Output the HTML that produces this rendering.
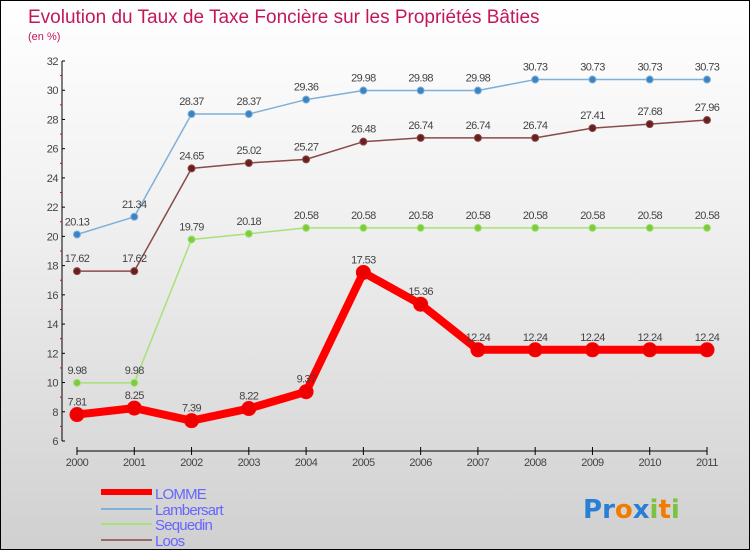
<!DOCTYPE html>
<html><head><meta charset="utf-8"><style>
body{margin:0}
#c{position:relative;width:748px;height:548px;border:1px solid #000;background:linear-gradient(#fff 0%,#f0f0f0 40%,#d0d0d0 100%);font-family:"Liberation Sans",sans-serif;overflow:hidden}
svg{position:absolute;left:0;top:0}
</style></head><body>
<div id="c">
<svg id="s" width="750" height="550">
<text x="27" y="22" font-size="19" fill="#c2185b">Evolution du Taux de Taxe Foncière sur les Propriétés Bâties</text>
<text x="27" y="39" font-size="11" fill="#c2185b">(en %)</text>
</svg>
</div>
<script>
const years=[2000,2001,2002,2003,2004,2005,2006,2007,2008,2009,2010,2011];
const yTicks=[6,8,10,12,14,16,18,20,22,24,26,28,30,32];
const lomme=[7.81,8.25,7.39,8.22,9.37,17.53,15.36,12.24,12.24,12.24,12.24,12.24];
const lambersart=[20.13,21.34,28.37,28.37,29.36,29.98,29.98,29.98,30.73,30.73,30.73,30.73];
const sequedin=[9.98,9.98,19.79,20.18,20.58,20.58,20.58,20.58,20.58,20.58,20.58,20.58];
const loos=[17.62,17.62,24.65,25.02,25.27,26.48,26.74,26.74,26.74,27.41,27.68,27.96];
const NS='http://www.w3.org/2000/svg',s=document.getElementById('s');
const X=i=>76+i*(630/11), Y=v=>440-(v-6)*(380/26);
function el(t,a,p){const e=document.createElementNS(NS,t);for(const k in a)e.setAttribute(k,a[k]);(p||s).appendChild(e);return e;}
let e;
e=el('line',{x1:61,y1:60,x2:61,y2:440,stroke:'#000'});


e=el('line',{x1:76,y1:450,x2:706,y2:450,stroke:'#000'});


yTicks.forEach(v=>{
 el('line',{x1:61,y1:Y(v),x2:64,y2:Y(v),stroke:'#000'});
 if(v<32)el('line',{x1:59,y1:Y(v+1),x2:61,y2:Y(v+1),stroke:'#e00'});
 e=el('text',{x:57,y:Y(v)+4,'font-size':11,fill:'#444','text-anchor':'end','letter-spacing':'-0.5'});e.textContent=v;
 
 
});
years.forEach((y,i)=>{
 el('line',{x1:X(i),y1:446,x2:X(i),y2:454,stroke:'#000'});
 e=el('text',{x:X(i),y:465,'font-size':11,fill:'#444','text-anchor':'middle','letter-spacing':'-0.5'});e.textContent=y;
 
 
});
function series(d,col,dot,w,r,name){
 const g=el('g',{});
 
 
 el('polyline',{points:d.map((v,i)=>X(i)+','+Y(v)).join(' '),fill:'none',stroke:col,'stroke-width':w,'stroke-linejoin':'round'},g);
 d.forEach((v,i)=>{
  const c=el('circle',{cx:X(i),cy:Y(v),r:r,fill:dot,stroke:col,'stroke-width':1},g);
  
  
  const t=el('text',{x:X(i),y:Y(v)-9,'font-size':11,fill:'#444','text-anchor':'middle','letter-spacing':'-0.6'},g);t.textContent=v;
  
  
 });
}
series(lambersart,'#7fb0d8','#3a84c4',1.5,3.5,'lambersart');
series(loos,'#8a4a4a','#6a1f1f',1.5,3.5,'loos');
series(sequedin,'#a8e07a','#7ccc3c',1.5,3.5,'sequedin');
series(lomme,'#f00','#e00',8,7,'lomme');
const leg=[['LOMME','#f00',6],['Lambersart','#7fb0d8',2],['Sequedin','#a8e07a',2],['Loos','#9a6a6a',2]];
const ly=[492,508,523,539];
leg.forEach((l,i)=>{
 const g=el('g',{});
 
 
 el('line',{x1:100,y1:ly[i]+(i==0?-1:0),x2:151,y2:ly[i]+(i==0?-1:0),stroke:l[1],'stroke-width':l[2]},g);
 const t=el('text',{x:154,y:ly[i]+6,'font-size':15,fill:'#6666ff','letter-spacing':'-0.8'},g);t.textContent=l[0];
});
const logo=el('text',{x:582,y:517,'font-size':26,'font-weight':'bold','font-family':'"DejaVu Sans",sans-serif'});


[['P','#2a7fd4'],['r','#2a7fd4'],['o','#f07d00'],['x','#2a7fd4'],['i','#7cc242'],['t','#f07d00'],['i','#7cc242']].forEach(([c,f])=>{const sp=el('tspan',{fill:f},logo);sp.textContent=c;});
</script>
</body></html>
